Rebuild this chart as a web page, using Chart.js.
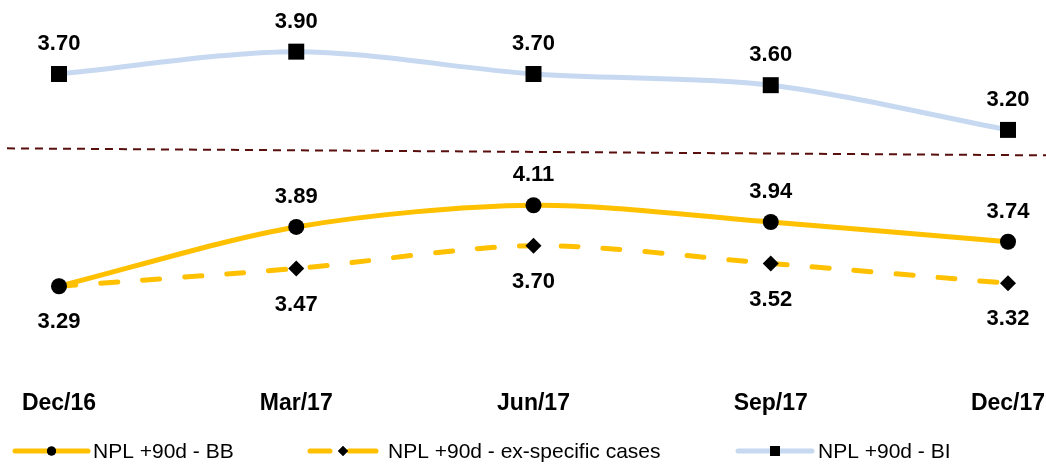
<!DOCTYPE html>
<html>
<head>
<meta charset="utf-8">
<script src="https://cdn.jsdelivr.net/npm/chart.js@4.4.1/dist/chart.umd.min.js"></script>
<style>
  html, body { margin: 0; padding: 0; background: #fff; overflow: hidden; }
  #wrap { position: relative; width: 1046px; height: 464px; }
</style>
</head>
<body>
<div id="wrap"><canvas id="chart1"></canvas></div>
<script>
// quarters on the x axis
const quarters = ['Dec/16', 'Mar/17', 'Jun/17', 'Sep/17', 'Dec/17'];

// NPL ratios (%)
const nplBB = [3.29, 3.89, 4.11, 3.94, 3.74];
const nplExSpecific = [3.29, 3.47, 3.70, 3.52, 3.32];
const nplBI = [3.70, 3.90, 3.70, 3.60, 3.20];

// broken axis: BB series on the lower scale, BI on the upper one
const lowerRange = [2.377, 6.188];
const upperRange = [0.995, 4.362];
const breakLevels = [4.686, 4.615]; // separator, left end / right end (lower scale)

const YELLOW = '#FFC000';
const LIGHT_BLUE = '#C6D9F1';
const FONT = "'Liberation Sans', Arial, sans-serif";

// value labels above / below each point
const valueLabels = {
  id: 'valueLabels',
  afterDatasetsDraw(chart) {
    const ctx = chart.ctx;
    ctx.save();
    ctx.font = 'bold 22px ' + FONT;
    ctx.fillStyle = '#000';
    ctx.textAlign = 'center';
    ctx.textBaseline = 'middle';
    chart.data.datasets.forEach((ds, i) => {
      const meta = chart.getDatasetMeta(i);
      meta.data.forEach((pt, j) => {
        if (ds.labelSkip && ds.labelSkip.includes(j)) return;
        const dy = ds.labelPos === 'below' ? 36 : -30;
        ctx.fillText(ds.data[j].toFixed(2), pt.x, pt.y + dy);
      });
    });
    ctx.restore();
  }
};

// dashed separator between the two scales
const axisBreak = {
  id: 'axisBreak',
  beforeDatasetsDraw(chart) {
    const ctx = chart.ctx;
    const y = chart.scales.y;
    ctx.save();
    ctx.strokeStyle = '#5A0F0F';
    ctx.lineWidth = 2;
    ctx.setLineDash([8, 6]);
    ctx.beginPath();
    ctx.moveTo(7, y.getPixelForValue(breakLevels[0]));
    ctx.lineTo(chart.width, y.getPixelForValue(breakLevels[1]));
    ctx.stroke();
    ctx.restore();
  }
};

// legend: line sample with marker in the middle, then the text
const lineLegend = {
  id: 'lineLegend',
  afterDraw(chart) {
    const ctx = chart.ctx;
    const items = [
      { ds: 0, x0: 15, x1: 88, tx: 93, r: 4.5 },
      { ds: 1, x0: 310, x1: 376, tx: 388, r: 5 },
      { ds: 2, x0: 738, x1: 812, tx: 818, r: 7 }
    ];
    const yy = 451;
    ctx.save();
    items.forEach(it => {
      const ds = chart.data.datasets[it.ds];
      const mid = (it.x0 + it.x1) / 2;
      ctx.strokeStyle = ds.borderColor;
      ctx.lineWidth = 5;
      ctx.lineCap = 'round';
      ctx.beginPath();
      if (ds.borderDash) {
        ctx.moveTo(it.x0, yy); ctx.lineTo(mid - 13, yy);
        ctx.moveTo(mid + 6, yy); ctx.lineTo(it.x1, yy);
      } else {
        ctx.moveTo(it.x0, yy); ctx.lineTo(it.x1, yy);
      }
      ctx.stroke();
      Chart.helpers.drawPoint(ctx, {
        pointStyle: ds.pointStyle, radius: it.r, borderWidth: 0
      }, mid, yy);
      ctx.fillStyle = '#000';
      ctx.fill();
      ctx.font = '21px ' + FONT;
      ctx.textAlign = 'left';
      ctx.textBaseline = 'middle';
      ctx.fillText(ds.label, it.tx, yy + 1);
    });
    ctx.restore();
  }
};

new Chart(document.getElementById('chart1').getContext('2d'), {
  type: 'line',
  data: {
    labels: quarters,
    datasets: [{
      label: 'NPL +90d - BB',
      data: nplBB,
      yAxisID: 'y',
      borderColor: YELLOW,
      borderWidth: 5,
      tension: 0.3,
      pointStyle: 'circle',
      pointRadius: 8,
      pointBackgroundColor: '#000',
      pointBorderWidth: 0,
      labelPos: 'above',
      labelSkip: [0]
    }, {
      label: 'NPL +90d - ex-specific cases',
      data: nplExSpecific,
      yAxisID: 'y',
      borderColor: YELLOW,
      borderWidth: 5,
      borderDash: [17, 25],
      borderCapStyle: 'round',
      tension: 0.3,
      pointStyle: 'rectRot',
      pointRadius: 8,
      pointBackgroundColor: '#000',
      pointBorderWidth: 0,
      labelPos: 'below'
    }, {
      label: 'NPL +90d - BI',
      data: nplBI,
      yAxisID: 'y2',
      borderColor: LIGHT_BLUE,
      borderWidth: 5,
      tension: 0.3,
      pointStyle: 'rect',
      pointRadius: 11.3,
      pointBackgroundColor: '#000',
      pointBorderWidth: 0,
      labelPos: 'above'
    }]
  },
  options: {
    responsive: true,
    maintainAspectRatio: false,
    animation: false,
    clip: false,
    layout: { autoPadding: false, padding: { left: 59, right: 38, top: 0, bottom: 34 } },
    plugins: {
      legend: { display: false },
      tooltip: { enabled: false }
    },
    scales: {
      x: {
        grid: { display: false, drawTicks: false },
        border: { display: false },
        ticks: {
          color: '#000',
          padding: 13,
          maxRotation: 0,
          font: { family: FONT, size: 23, weight: 'bold' }
        },
        // let the end labels run to the canvas edge
        afterFit(scale) {
          scale.paddingLeft = 0;
          scale.paddingRight = 0;
        }
      },
      y: { display: false, min: lowerRange[0], max: lowerRange[1] },
      y2: { display: false, min: upperRange[0], max: upperRange[1] }
    }
  },
  plugins: [axisBreak, valueLabels, lineLegend]
});
</script>
</body>
</html>
